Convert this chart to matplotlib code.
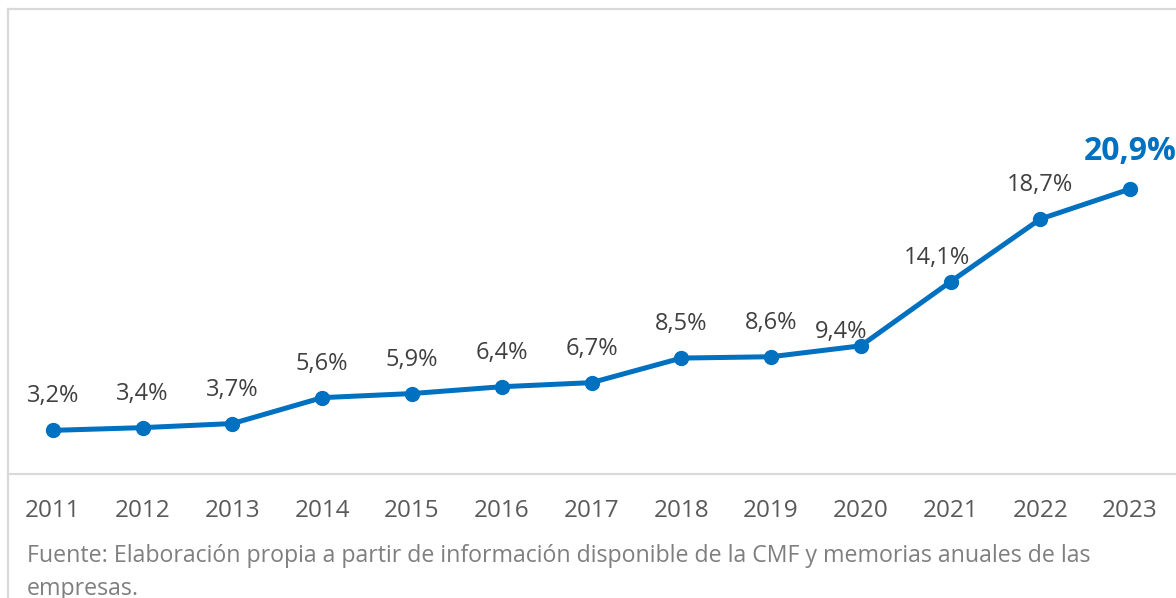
import matplotlib.pyplot as plt
from matplotlib.lines import Line2D

plt.rcParams['font.family'] = ['Open Sans', 'DejaVu Sans']

# datos: participación por año
years = [2011, 2012, 2013, 2014, 2015, 2016, 2017, 2018, 2019, 2020, 2021, 2022, 2023]
values = [3.2, 3.4, 3.7, 5.6, 5.9, 6.4, 6.7, 8.5, 8.6, 9.4, 14.1, 18.7, 20.9]
labels = ['3,2%', '3,4%', '3,7%', '5,6%', '5,9%', '6,4%', '6,7%', '8,5%', '8,6%',
          '9,4%', '14,1%', '18,7%', '20,9%']
fuente = ['Fuente: Elaboración propia a partir de información disponible de la CMF y memorias anuales de las',
          'empresas.']

W, H = 1176, 598
fig = plt.figure(figsize=(W / 100, H / 100), dpi=100)
fig.patch.set_facecolor('white')

ax = fig.add_axes([8 / W, (H - 474) / H, 1167 / W, (474 - 9) / H])
blue = '#0070C0'
ax.plot(years, values, color=blue, lw=3.6, marker='o', ms=10, solid_capstyle='round')

# ajustes manuales de etiquetas (en pixeles)
ajuste = {9: (-20, -20), 10: (-14, -10)}
for i, (x, v, t) in enumerate(zip(years, values, labels)):
    dx, dy = ajuste.get(i, (0, 0))
    if i == len(years) - 1:
        ax.annotate(t, (x, v), xytext=(0, 38), textcoords='offset pixels',
                    ha='center', va='center', fontsize=23, fontweight='bold', color=blue)
    else:
        ax.annotate(t, (x, v), xytext=(dx, 34 + dy), textcoords='offset pixels',
                    ha='center', va='center', fontsize=17, color='#404040')

ax.set_xlim(2010.5, 2023.5)
ax.set_ylim(0, 34.1)
ax.set_xticks(years)
ax.set_yticks([])
ax.tick_params(axis='x', length=0, pad=18, labelsize=17.5, labelcolor='#595959')
for s in ['top', 'right', 'left']:
    ax.spines[s].set_visible(False)
ax.spines['bottom'].set_color('#D9D9D9')
ax.spines['bottom'].set_linewidth(1.5)
ax.patch.set_alpha(0)

# borde del gráfico
fig.add_artist(Line2D([8 / W, 1], [1 - 8.5 / H, 1 - 8.5 / H], color='#D9D9D9', lw=1.6))
fig.add_artist(Line2D([8 / W, 8 / W], [0, 1 - 8.5 / H], color='#D9D9D9', lw=1.6))

fig.text(27 / W, 1 - 556 / H, fuente[0], fontsize=16.7, color='#7F7F7F', va='center')
fig.text(27 / W, 1 - 589 / H, fuente[1], fontsize=16.7, color='#7F7F7F', va='center')

fig.savefig('out.png', dpi=100)
